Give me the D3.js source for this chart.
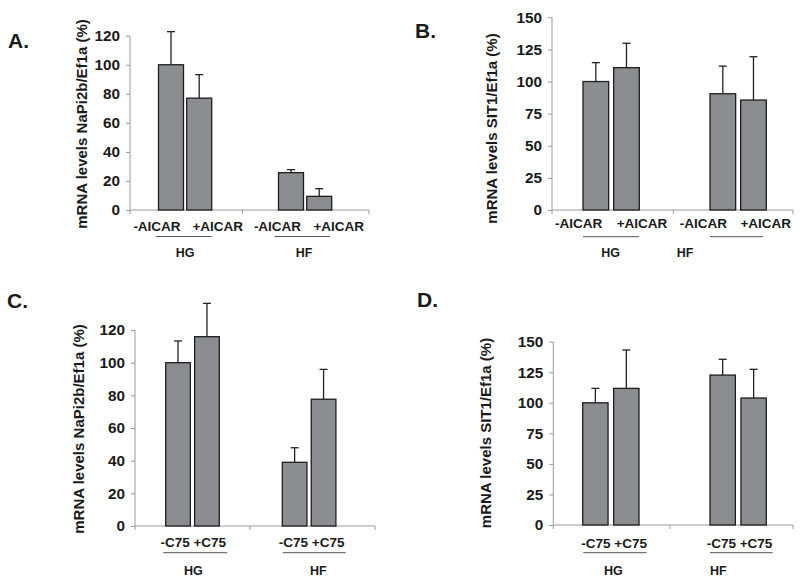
<!DOCTYPE html>
<html><head><meta charset="utf-8">
<script src="https://cdn.jsdelivr.net/npm/d3@7"></script>
<style>
body{margin:0;background:#fff;}
svg text{font-family:"Liberation Sans",Arial,sans-serif;font-weight:bold;fill:#1a1a1a;}
</style></head>
<body><svg id="chart" width="800" height="580"></svg>
<script>
// ---- data ----
const groups = ["HG", "HF"];
const aicarConds = ["-AICAR", "+AICAR"];
const c75Conds = ["-C75", "+C75"];
const napiTicks = [0, 20, 40, 60, 80, 100, 120];
const sit1Ticks = [0, 25, 50, 75, 100, 125, 150];
// values ordered: HG-, HG+, HF-, HF+
const napiAicarMean = [100, 77, 25.7, 9.4];
const napiAicarErr  = [22.8, 16.2, 2.1, 5.3];
const sit1AicarMean = [100, 110.8, 90.5, 85.6];
const sit1AicarErr  = [14.7, 19.0, 21.5, 33.7];
const napiC75Mean = [100, 115.9, 39.0, 77.6];
const napiC75Err  = [13.3, 20.4, 8.9, 18.3];
const sit1C75Mean = [100, 111.8, 122.7, 103.9];
const sit1C75Err  = [11.8, 31.4, 12.9, 23.5];
const napiLabel = "mRNA levels NaPi2b/Ef1a (%)";
const sit1Label = "mRNA levels SIT1/Ef1a (%)";

// ---- layout ----
const panels = [
  {letter:"A.", lx:8, ly:48, ax:[130,242.5,369], y0:210, yTop:35.7, ticks:napiTicks,
   mean:napiAicarMean, err:napiAicarErr, conds:aicarConds, split:true,
   pairStart:158.5, step:120, pairW:53.2, gap:3.2,
   sub:[157,217.7,277.5,338.7], subY:231, line:[[156,211.7],[274.7,330]], lineY:236.5,
   grp:[185,304], grpY:257, yl:[82,124], label:napiLabel},
  {letter:"B.", lx:415, ly:38, ax:[552,673.3,793], y0:210, yTop:17.3, ticks:sit1Ticks,
   mean:sit1AicarMean, err:sit1AicarErr, conds:aicarConds, split:true,
   pairStart:583, step:127, pairW:56.3, gap:5,
   sub:[578.7,642,703.3,765.8], subY:228, line:[[583,639],[710,763]], lineY:236.7,
   grp:[610.7,685], grpY:257, yl:[492,128.5], label:sit1Label},
  {letter:"C.", lx:7, ly:308, ax:[135,250,375], y0:526, yTop:330, ticks:napiTicks,
   mean:napiC75Mean, err:napiC75Err, conds:c75Conds, split:false,
   pairStart:165.7, step:116.6, pairW:53.6, gap:4.3,
   sub:[193.3,311.7], subY:546.5, line:[[163.3,227.3],[282.7,345.7]], lineY:552.7,
   grp:[193.3,318.3], grpY:574.5, yl:[78.5,429], label:napiLabel},
  {letter:"D.", lx:417, ly:307, ax:[553.3,670,793], y0:525, yTop:341.7, ticks:sit1Ticks,
   mean:sit1C75Mean, err:sit1C75Err, conds:c75Conds, split:false,
   pairStart:582.7, step:127.3, pairW:56.3, gap:5.6,
   sub:[614.2,739.5], subY:547.5, line:[[583.3,646.7],[710,772.7]], lineY:552.7,
   grp:[613.3,718.3], grpY:574.5, yl:[485.3,433], label:sit1Label}
];

const svg = d3.select("#chart");
const axisColor = "#9a9a9a";

panels.forEach(p => {
  const g = svg.append("g");
  const yMax = p.ticks[p.ticks.length-1];
  const y = d3.scaleLinear().domain([0, yMax]).range([p.y0, p.yTop]);
  const outer = d3.scaleBand().domain(groups)
      .range([p.pairStart, p.pairStart + p.step + p.pairW])
      .paddingInner(1 - p.pairW / p.step).paddingOuter(0);
  const bw = (p.pairW - p.gap) / 2;
  const inner = d3.scaleBand().domain(p.conds)
      .range([0, outer.bandwidth()])
      .paddingInner(p.gap / (bw + p.gap)).paddingOuter(0);

  // letter
  g.append("text").attr("x", p.lx).attr("y", p.ly).attr("font-size", 21).text(p.letter);

  // y axis
  const yAxis = d3.axisLeft(y).tickValues(p.ticks).tickSize(4).tickPadding(6);
  const ya = g.append("g").attr("transform", `translate(${p.ax[0]},0)`).call(yAxis);
  ya.select(".domain").attr("stroke", axisColor).attr("d", `M0,${p.y0}V${p.yTop}`);
  ya.selectAll(".tick line").attr("stroke", axisColor);
  ya.selectAll(".tick text").attr("font-size", 15.3).attr("font-family", "Liberation Sans, Arial, sans-serif")
    .attr("font-weight", "bold").attr("fill", "#1a1a1a");

  // x axis line with boundary ticks
  g.append("line").attr("x1", p.ax[0]).attr("x2", p.ax[2]).attr("y1", p.y0).attr("y2", p.y0)
    .attr("stroke", axisColor).attr("stroke-width", 1);
  g.selectAll(".xt").data(p.ax).enter().append("line")
    .attr("x1", d => d).attr("x2", d => d).attr("y1", p.y0).attr("y2", p.y0 + 4)
    .attr("stroke", axisColor);

  // bars
  const rows = [];
  groups.forEach((gr, gi) => p.conds.forEach((c, ci) => {
    const i = gi * 2 + ci;
    rows.push({gr, c, v: p.mean[i], e: p.err[i]});
  }));
  const cx = d => outer(d.gr) + inner(d.c) + inner.bandwidth()/2;
  const bars = g.selectAll(".bar").data(rows).enter().append("g");
  bars.append("line")
    .attr("x1", cx).attr("x2", cx)
    .attr("y1", d => y(d.v)).attr("y2", d => y(d.v + d.e))
    .attr("stroke", "#222").attr("stroke-width", 1.3);
  bars.append("line")
    .attr("x1", d => cx(d) - 4).attr("x2", d => cx(d) + 4)
    .attr("y1", d => y(d.v + d.e)).attr("y2", d => y(d.v + d.e))
    .attr("stroke", "#222").attr("stroke-width", 1.3);
  bars.append("rect")
    .attr("x", d => outer(d.gr) + inner(d.c))
    .attr("width", inner.bandwidth())
    .attr("y", d => y(d.v)).attr("height", d => y(0) - y(d.v))
    .attr("fill", "#8c8d90").attr("stroke", "#1e1e1e").attr("stroke-width", 1.3);

  // sub labels
  const subText = p.split ? groups.flatMap(() => p.conds) : groups.map(() => p.conds.join(" "));
  g.selectAll(".sub").data(subText).enter().append("text")
    .attr("x", (d, i) => p.sub[i]).attr("y", p.subY).attr("text-anchor", "middle")
    .attr("font-size", 13.5).text(d => d);
  g.selectAll(".ul").data(p.line).enter().append("line")
    .attr("x1", d => d[0]).attr("x2", d => d[1]).attr("y1", p.lineY).attr("y2", p.lineY)
    .attr("stroke", "#555").attr("stroke-width", 1);
  g.selectAll(".grp").data(groups).enter().append("text")
    .attr("x", (d, i) => p.grp[i]).attr("y", p.grpY).attr("text-anchor", "middle")
    .attr("font-size", 12.5).text(d => d);

  // y label
  g.append("text").attr("transform", `translate(${p.yl[0]},${p.yl[1]}) rotate(-90)`)
    .attr("text-anchor", "middle").attr("dy", "0.35em").attr("font-size", 15).text(p.label);
});
</script></body></html>
